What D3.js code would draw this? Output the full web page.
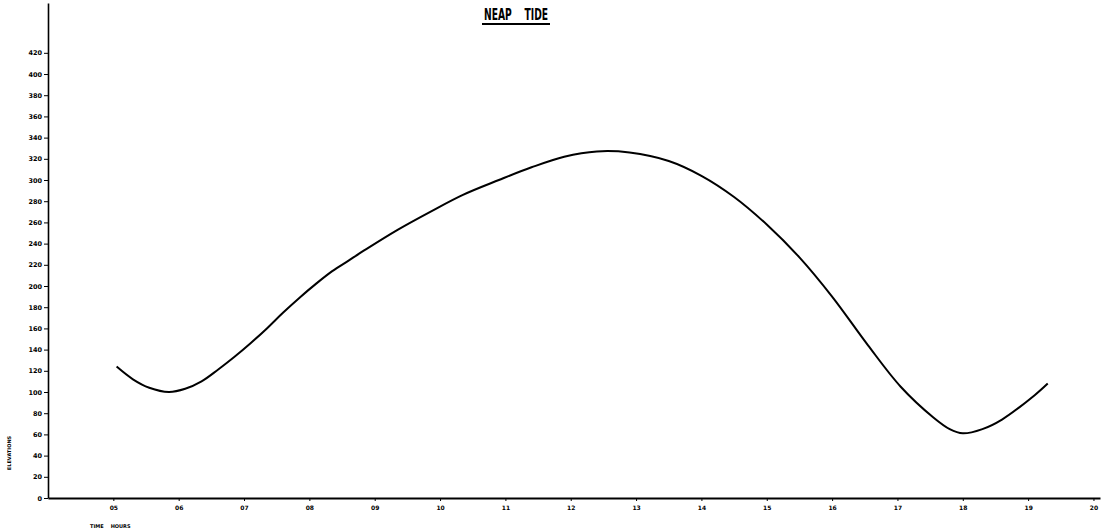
<!DOCTYPE html>
<html>
<head>
<meta charset="utf-8">
<script src="https://cdn.jsdelivr.net/npm/d3@7"></script>
<style>
  body { margin: 0; background: #fff; }
  svg { display: block; }
  .axis path, .axis line { stroke: #000; }
  .axis text { font-family: "DejaVu Sans", sans-serif; font-weight: bold; fill: #000; }
</style>
</head>
<body>
<div id="chart"></div>
<script>
// tide curve
var hours = [5.05, 5.3, 5.55, 5.85, 6.1, 6.35, 6.6, 6.85, 7.1, 7.35, 7.6, 7.85, 8.1, 8.35, 8.6, 8.85,
             9.35, 9.85, 10.35, 10.9, 11.4, 11.9, 12.4, 12.9, 13.5, 14.0, 14.5, 15.0, 15.5, 16.0,
             16.55, 17.05, 17.55, 17.8, 18.0, 18.3, 18.6, 19.1, 19.3];
var elevation = [124, 112, 104, 100, 103, 110, 121, 133, 146, 160, 175, 189, 202, 214, 224, 234,
                 253, 270, 286, 300, 312, 322, 327, 326, 318, 304, 284, 258, 227, 190,
                 144, 105, 76, 65, 61, 65, 74, 97, 108];

var hourTicks = d3.range(5, 21);
var elevTicks = d3.range(0, 421, 20);

var width = 1113, height = 532;

var x = d3.scaleLinear()
    .domain([4, 20.1])
    .range([48, 1100]);

var y = d3.scaleLinear()
    .domain([0, 467])
    .range([498, 3]);

var svg = d3.select("#chart").append("svg")
    .attr("width", width)
    .attr("height", height);

// title
svg.append("text")
    .attr("x", 516)
    .attr("y", 20)
    .attr("text-anchor", "middle")
    .attr("font-family", "'DejaVu Sans Condensed', 'DejaVu Sans', sans-serif")
    .attr("font-weight", "bold")
    .attr("font-size", 15)
    .attr("textLength", 64)
    .attr("lengthAdjust", "spacingAndGlyphs")
    .attr("xml:space", "preserve")
    .style("white-space", "pre")
    .text("NEAP    TIDE");

svg.append("line")
    .attr("x1", 482).attr("x2", 550)
    .attr("y1", 24).attr("y2", 24)
    .attr("stroke", "#000")
    .attr("stroke-width", 2);

// axes
var xAxis = svg.append("g")
    .attr("class", "axis")
    .attr("transform", "translate(0," + y(0) + ")")
    .call(d3.axisBottom(x)
        .tickValues(hourTicks)
        .tickSize(3)
        .tickSizeOuter(0)
        .tickPadding(5)
        .tickFormat(d3.format("02")));
xAxis.select(".domain").attr("stroke-width", 2.2);
xAxis.selectAll("text").attr("font-size", 6);

var yAxis = svg.append("g")
    .attr("class", "axis")
    .attr("transform", "translate(" + x(4) + ",0)")
    .call(d3.axisLeft(y)
        .tickValues(elevTicks)
        .tickSize(4)
        .tickSizeOuter(0)
        .tickPadding(2));
yAxis.select(".domain").attr("stroke-width", 1.6);
yAxis.selectAll("text").attr("font-size", 6.5);

// axis titles
svg.append("text")
    .attr("transform", "translate(11,453) rotate(-90)")
    .attr("text-anchor", "middle")
    .attr("font-family", "'DejaVu Sans', sans-serif")
    .attr("font-weight", "bold")
    .attr("font-size", 5)
    .text("ELEVATIONS");

svg.append("text")
    .attr("x", 90)
    .attr("y", 528)
    .attr("font-family", "'DejaVu Sans', sans-serif")
    .attr("font-weight", "bold")
    .attr("font-size", 5)
    .style("white-space", "pre")
    .text("TIME    HOURS");

// curve
var line = d3.line()
    .x(function(d, i) { return x(hours[i]); })
    .y(function(d) { return y(d); })
    .curve(d3.curveCatmullRom);

svg.append("path")
    .datum(elevation)
    .attr("fill", "none")
    .attr("stroke", "#000")
    .attr("stroke-width", 2)
    .attr("d", line);
</script>
</body>
</html>
